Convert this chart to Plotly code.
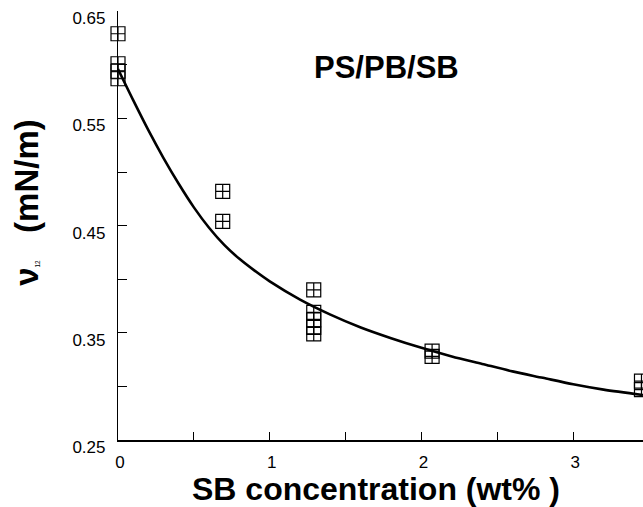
import plotly.graph_objects as go

# Measured data (SB concentration in wt%, interfacial tension nu12 in mN/m)
meas_x = [0.0, 0.0, 0.0, 0.0,
          0.69, 0.69,
          1.29, 1.29, 1.29, 1.29, 1.29,
          2.07, 2.07,
          3.45, 3.45]
meas_y = [0.629, 0.601, 0.594, 0.587,
          0.482, 0.454,
          0.390, 0.369, 0.362, 0.355, 0.349,
          0.333, 0.328,
          0.305, 0.297]

# Fitted curve
fit_x = [0.0, 0.1, 0.2, 0.3, 0.4, 0.5, 0.6, 0.7, 0.8, 0.9, 1.0, 1.2, 1.4,
         1.6, 1.8, 2.0, 2.2, 2.4, 2.6, 2.8, 3.0, 3.2, 3.46]
fit_y = [0.596, 0.567, 0.539, 0.513, 0.489, 0.467, 0.448, 0.432, 0.419,
         0.408, 0.398, 0.381, 0.367, 0.355, 0.345, 0.336, 0.328, 0.321,
         0.314, 0.308, 0.302, 0.297, 0.292]

x_tick_vals = [0, 1, 2, 3]
x_tick_labels = ["0", "1", "2", "3"]
y_tick_vals = [0.25, 0.35, 0.45, 0.55, 0.65]
y_tick_labels = ["0.25", "0.35", "0.45", "0.55", "0.65"]
right_tick_vals = [0.25, 0.30, 0.35, 0.40, 0.45, 0.50, 0.55, 0.60, 0.65]

FONT = "Liberation Sans, Arial, sans-serif"

fig = go.Figure()
fig.add_trace(go.Scatter(
    x=fit_x, y=fit_y, mode="lines",
    line=dict(color="black", width=2.6, shape="spline", smoothing=0.8),
    showlegend=False, hoverinfo="skip", cliponaxis=False))
fig.add_trace(go.Scatter(
    x=meas_x, y=meas_y, mode="markers",
    marker=dict(symbol="square-cross-open", size=14, color="black",
                line=dict(color="black", width=1.2)),
    showlegend=False, cliponaxis=False))

fig.update_layout(
    width=643, height=507,
    margin=dict(l=118, r=0, t=11, b=66.5),
    paper_bgcolor="white", plot_bgcolor="white",
    font=dict(family=FONT, color="black"),
    xaxis=dict(range=[0, 3.46], tickvals=x_tick_vals, ticktext=x_tick_labels,
               ticks="inside", ticklen=8, tickwidth=1.2, tickcolor="black",
               minor=dict(dtick=0.5, tick0=0, ticks="inside", ticklen=8,
                          tickwidth=1.2, tickcolor="black"),
               showline=True, linecolor="black", linewidth=1.5,
               showgrid=False, zeroline=False,
               tickfont=dict(size=17, family=FONT),
               ticklabelstandoff=6, ticklabelshift=2),
    yaxis=dict(range=[0.25, 0.6502], tickvals=y_tick_vals, ticktext=y_tick_labels,
               ticks="inside", ticklen=9, tickwidth=1.2, tickcolor="black",
               minor=dict(dtick=0.05, tick0=0.25, ticks="inside", ticklen=9,
                          tickwidth=1.2, tickcolor="black"),
               showline=True, linecolor="black", linewidth=1.2,
               showgrid=False, zeroline=False,
               tickfont=dict(size=17, family=FONT),
               ticklabelstandoff=8, ticklabelshift=7),
    yaxis2=dict(range=[0.25, 0.6502], overlaying="y", side="right",
                tickvals=right_tick_vals, showticklabels=False,
                ticks="inside", ticklen=3, tickwidth=1.5, tickcolor="black",
                showline=False, showgrid=False, zeroline=False),
)

fig.add_annotation(
    text="<b>PS/PB/SB</b>", xref="paper", yref="paper",
    x=(386 - 118) / 525, y=(440.5 - 68) / 429.5,
    showarrow=False, font=dict(size=31, family=FONT, color="black"),
    xanchor="center", yanchor="middle")

fig.add_annotation(
    text="<b>SB concentration (wt% )</b>", xref="paper", yref="paper",
    x=(376 - 118) / 525, y=0, yshift=-(489 - 440.5),
    showarrow=False, font=dict(size=32, family=FONT, color="black"),
    xanchor="center", yanchor="middle")

fig.add_annotation(
    text="<b>ν</b><span style='font-size:9px'><sub>12</sub></span>&nbsp;&nbsp; <b>(mN/m)</b>",
    xref="paper", yref="paper",
    x=0, xshift=-(118 - 27), y=(440.5 - 203) / 429.5,
    textangle=-90, showarrow=False,
    font=dict(size=33, family=FONT, color="black"),
    xanchor="center", yanchor="middle")

fig.write_html("out.html")
